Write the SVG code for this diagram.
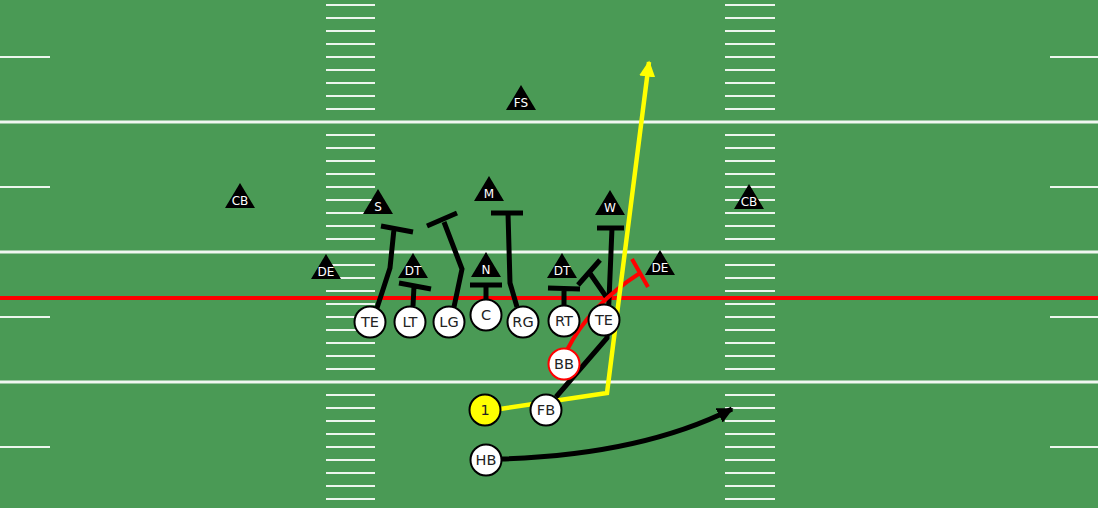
<svg xmlns="http://www.w3.org/2000/svg" width="1098" height="508" viewBox="0 0 1098 508">
<defs>
<style>
.yl{stroke:#fff;stroke-width:3;opacity:.92}
.hm{stroke:#fff;stroke-width:2.2;opacity:.9;fill:none}
.blk{stroke:#000;stroke-width:5;fill:none;stroke-linejoin:miter}
.p circle{fill:#fff;stroke:#000;stroke-width:2}
.p text{font-family:"DejaVu Sans",sans-serif;font-size:14.5px;fill:#222;text-anchor:middle}
.d path{fill:#000;stroke:#fff;stroke-width:1.8;stroke-linejoin:miter}
.d text{font-family:"DejaVu Sans",sans-serif;font-size:12px;fill:#fff;text-anchor:middle}
</style>
<marker id="ay" viewBox="0 0 10 10" refX="9" refY="5" markerWidth="3.6" markerHeight="3.6" orient="auto" markerUnits="strokeWidth"><path d="M0,0 L10,5 L0,10 Z" fill="#ffff00"/></marker>
<marker id="ab" viewBox="0 0 10 10" refX="9" refY="5" markerWidth="3.2" markerHeight="3.2" orient="auto" markerUnits="strokeWidth"><path d="M0,0 L10,5 L0,10 Z" fill="#000"/></marker>
<path id="tri" d="M0,-17 L15,8 L-15,8 Z"/>
</defs>
<rect width="1098" height="508" fill="#4a9a55"/>
<g id="field">
<line class="yl" x1="0" y1="122" x2="1098" y2="122"/>
<line class="yl" x1="0" y1="252" x2="1098" y2="252"/>
<line class="yl" x1="0" y1="382" x2="1098" y2="382"/>
<path class="hm" d="M326,5H375M326,18H375M326,31H375M326,44H375M326,57H375M326,70H375M326,83H375M326,96H375M326,109H375M326,135H375M326,148H375M326,161H375M326,174H375M326,187H375M326,200H375M326,213H375M326,226H375M326,239H375M326,265H375M326,278H375M326,291H375M326,304H375M326,317H375M326,330H375M326,343H375M326,356H375M326,369H375M326,395H375M326,408H375M326,421H375M326,434H375M326,447H375M326,460H375M326,473H375M326,486H375M326,499H375"/>
<path class="hm" d="M725,5H775M725,18H775M725,31H775M725,44H775M725,57H775M725,70H775M725,83H775M725,96H775M725,109H775M725,135H775M725,148H775M725,161H775M725,174H775M725,187H775M725,200H775M725,213H775M725,226H775M725,239H775M725,265H775M725,278H775M725,291H775M725,304H775M725,317H775M725,330H775M725,343H775M725,356H775M725,369H775M725,395H775M725,408H775M725,421H775M725,434H775M725,447H775M725,460H775M725,473H775M725,486H775M725,499H775"/>
<path class="hm" d="M0,57H50M0,187H50M0,317H50M0,447H50M1050,57H1098M1050,187H1098M1050,317H1098M1050,447H1098"/>
<line x1="0" y1="298" x2="1098" y2="298" stroke="#ff0000" stroke-width="4"/>
</g>
<g id="connectors">
<path class="blk" d="M377,308 L390,268 L394,229 M381,226 L413,232"/>
<path class="blk" d="M413,306 L414,286 M399,283 L431,289"/>
<path class="blk" d="M454,307 L462,269 L444,222 M427,226 L457,213"/>
<path class="blk" d="M486,299 L486,285 M470,285 L502,285"/>
<path class="blk" d="M517,307 L510,283 L508,213 M491,213 L523,213"/>
<path class="blk" d="M564,306 L564,288 M548,288 L580,289"/>
<path class="blk" d="M556,397 L607,338 L609,300 L612,228 M597,228 L624,228"/>
<path class="blk" d="M607,298 L589,272 M578,285 L600,260"/>
<path d="M567,350 Q590,305 640,273 M632,259 L648,287" fill="none" stroke="#ff0000" stroke-width="4"/>
<path d="M500,409 L607,393 L649,62" fill="none" stroke="#ffff00" stroke-width="4.5" marker-end="url(#ay)"/>
<path d="M500,459 Q640,455 732,409" fill="none" stroke="#000" stroke-width="5" marker-end="url(#ab)"/>
</g>
<g id="def-FS" class="d"><use href="#tri" x="521" y="102"/><text x="521" y="107">FS</text></g>
<g id="def-CB-L" class="d"><use href="#tri" x="240" y="200"/><text x="240" y="205">CB</text></g>
<g id="def-CB-R" class="d"><use href="#tri" x="749" y="201"/><text x="749" y="206">CB</text></g>
<g id="def-S" class="d"><use href="#tri" x="378" y="206"/><text x="378" y="211">S</text></g>
<g id="def-M" class="d"><use href="#tri" x="489" y="193"/><text x="489" y="198">M</text></g>
<g id="def-W" class="d"><use href="#tri" x="610" y="207"/><text x="610" y="212">W</text></g>
<g id="def-DE-L" class="d"><use href="#tri" x="326" y="271"/><text x="326" y="276">DE</text></g>
<g id="def-DT-L" class="d"><use href="#tri" x="413" y="270"/><text x="413" y="275">DT</text></g>
<g id="def-N" class="d"><use href="#tri" x="486" y="269"/><text x="486" y="274">N</text></g>
<g id="def-DT-R" class="d"><use href="#tri" x="562" y="270"/><text x="562" y="275">DT</text></g>
<g id="def-DE-R" class="d"><use href="#tri" x="660" y="267"/><text x="660" y="272">DE</text></g>
<g id="off-TE-L" class="p"><circle cx="370" cy="322" r="15.5"/><text x="370" y="327">TE</text></g>
<g id="off-LT" class="p"><circle cx="410" cy="322" r="15.5"/><text x="410" y="327">LT</text></g>
<g id="off-LG" class="p"><circle cx="449" cy="322" r="15.5"/><text x="449" y="327">LG</text></g>
<g id="off-C" class="p"><circle cx="486" cy="315" r="15.5"/><text x="486" y="320">C</text></g>
<g id="off-RG" class="p"><circle cx="523" cy="322" r="15.5"/><text x="523" y="327">RG</text></g>
<g id="off-RT" class="p"><circle cx="564" cy="321" r="15.5"/><text x="564" y="326">RT</text></g>
<g id="off-TE-R" class="p"><circle cx="604" cy="320" r="15.5"/><text x="604" y="325">TE</text></g>
<g id="off-BB" class="p"><circle cx="564" cy="364" r="15.5" style="stroke:#ff0000;stroke-width:2"/><text x="564" y="369">BB</text></g>
<g id="off-1" class="p"><circle cx="485" cy="410" r="15.5" style="fill:#ffff00"/><text x="485" y="415">1</text></g>
<g id="off-FB" class="p"><circle cx="546" cy="410" r="15.5"/><text x="546" y="415">FB</text></g>
<g id="off-HB" class="p"><circle cx="486" cy="460" r="15.5"/><text x="486" y="465">HB</text></g>
</svg>
